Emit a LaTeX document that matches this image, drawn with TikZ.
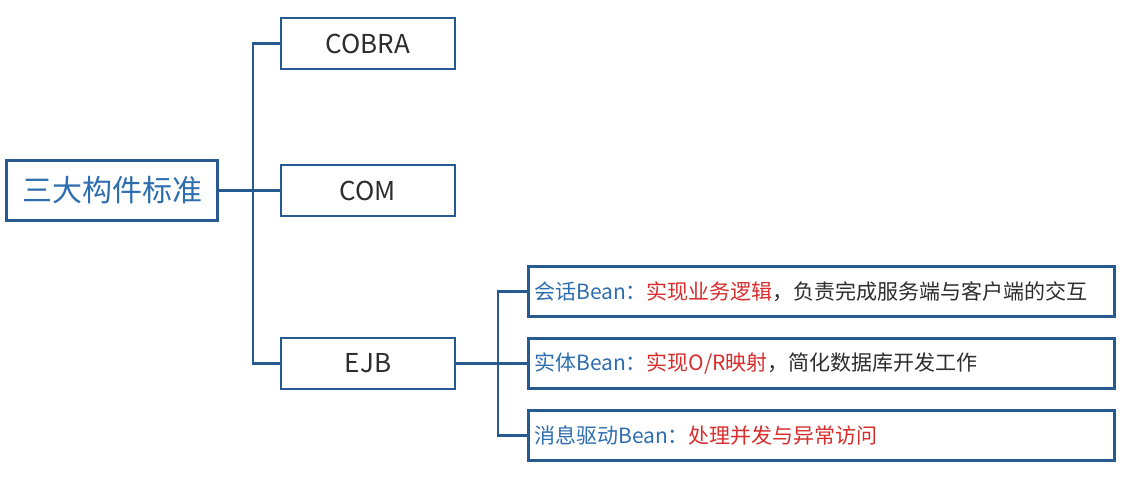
\documentclass[tikz,border=0pt]{standalone}
\usepackage{fontspec}
\setmainfont{Noto Sans CJK SC}
\newfontfamily\cjk{Noto Sans CJK SC}
\definecolor{frame}{RGB}{38,90,145}
\definecolor{bluetxt}{RGB}{46,110,175}
\definecolor{redtxt}{RGB}{215,45,45}
\definecolor{graytxt}{RGB}{45,45,45}
\begin{document}
\begin{tikzpicture}[x=1pt,y=-1pt,
  box/.style={draw=frame,line width=2.8pt,fill=white,inner sep=0pt},
  conn/.style={draw=frame,line width=2.8pt},
  midbox/.style={box,minimum width=174pt,minimum height=51pt,font=\cjk\fontsize{26}{30}\selectfont,text=graytxt},
  leafbox/.style={box,minimum width=586pt,minimum height=50pt,anchor=west},
  leaftext/.style={anchor=west,inner sep=0pt,font=\cjk\fontsize{21}{24}\selectfont}]
\useasboundingbox (0,0) rectangle (1134,480);
\fill[white] (0,0) rectangle (1134,480);
\node[box,minimum width=211pt,minimum height=60pt,font=\cjk\fontsize{30}{34}\selectfont,text=bluetxt] (root) at (112,190.5) {三大构件标准};
\node[midbox] (cobra) at (368,43.5) {COBRA};
\node[midbox] (com) at (368,190.5) {COM};
\node[midbox] (ejb) at (368,363.5) {EJB};
\coordinate (j1) at (253,190.5);
\coordinate (j2) at (498,363.5);
\node[leafbox] (b1) at (527,291.5) {};
\node[leafbox] (b2) at (527,363.5) {};
\node[leafbox] (b3) at (527,435.5) {};
\node[leaftext] (t1) at (534,291.5) {\textcolor{bluetxt}{会话Bean：}\textcolor{redtxt}{实现业务逻辑}\textcolor{graytxt}{，负责完成服务端与客户端的交互}};
\node[leaftext] (t2) at (534,363.5) {\textcolor{bluetxt}{实体Bean：}\textcolor{redtxt}{实现O/R映射}\textcolor{graytxt}{，简化数据库开发工作}};
\node[leaftext] (t3) at (534,435.5) {\textcolor{bluetxt}{消息驱动Bean：}\textcolor{redtxt}{处理并发与异常访问}};
\draw[conn] (root.east) -- (com.west);
\draw[conn] (cobra.west) -| (j1) |- (ejb.west);
\draw[conn] (ejb.east) -- (b2.west);
\draw[conn] (b1.west) -| (j2) |- (b3.west);
\end{tikzpicture}
\end{document}
